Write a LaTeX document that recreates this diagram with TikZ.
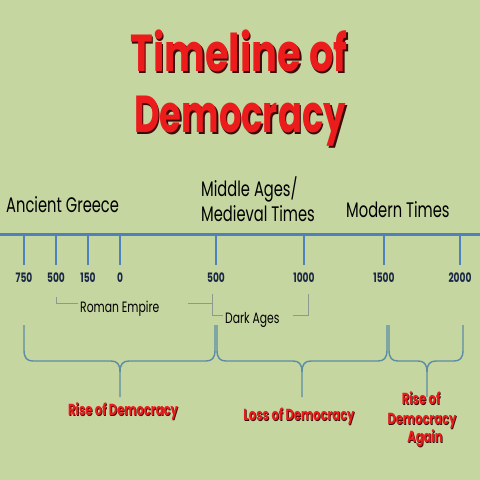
\documentclass[tikz,border=0pt]{standalone}
\usepackage{fontspec}
\setmainfont{Poppins}
\definecolor{bg}{HTML}{C5D6A0}
\definecolor{axis}{HTML}{4F81BD}
\definecolor{brc}{HTML}{5B8DA6}
\definecolor{tred}{HTML}{EC1C1C}
\definecolor{shade}{HTML}{3A0A0A}
\definecolor{navy}{HTML}{1B2747}
\definecolor{grayline}{HTML}{8C9C8C}
\newcommand{\sqz}[2][0.72]{\scalebox{#1}[1]{#2}}
% red text with a dark drop shadow, in one box
\newcommand{\shadowed}[2]{\makebox[0pt][l]{\hspace{#1}\raisebox{-#1}{\color{shade}#2}}{\color{tred}#2}}
\tikzset{
  titletxt/.style={anchor=base, inner sep=0pt, font=\fontsize{52}{52}\selectfont\bfseries},
  era/.style={anchor=base west, inner sep=0pt, font=\fontsize{21}{21}\selectfont, text=black},
  yearlbl/.style={anchor=base, inner sep=0pt, font=\fontsize{13}{13}\selectfont\bfseries, text=navy},
  period/.style={anchor=base west, inner sep=0pt, font=\fontsize{15}{15}\selectfont, text=black},
  redlbl/.style={anchor=base, inner sep=0pt, font=\fontsize{16}{16}\selectfont\bfseries},
  axisline/.style={draw=axis, line width=3pt},
  tickline/.style={draw=axis, line width=2.4pt},
  brline/.style={draw=grayline, line width=0.8pt},
  bracepath/.style={draw=brc, line width=1.4pt, line join=round},
}
\begin{document}
\begin{tikzpicture}[x=1pt,y=-1pt]
\fill[bg] (0,0) rectangle (480,480);
\useasboundingbox (0,0) rectangle (480,480);

% title
\node[titletxt] (title1) at (239,71) {\sqz[0.74]{\shadowed{2.2pt}{Timeline of}}};
\node[titletxt] (title2) at (240,132) {\sqz[0.68]{\shadowed{2.2pt}{Democracy}}};

% eras
\node[era] (greece) at (6,212) {\sqz[0.70]{Ancient Greece}};
\node[era] (middle1) at (201,196) {\sqz[0.70]{Middle Ages/}};
\node[era] (middle2) at (201,221) {\sqz[0.70]{Medieval Times}};
\node[era] (modern) at (346,217) {\sqz[0.70]{Modern Times}};

% axis
\coordinate (axL) at (0,234);
\coordinate (axR) at (480,234);
\draw[axisline] (axL) -- (axR);

\foreach \x/\lbl/\nm in {24/750/a,56/500/b,88/150/c,120/0/d,216/500/e,304/1000/f,384/1500/g,460/2000/h}{
  \coordinate (top\nm) at (\x,234);
  \coordinate (bot\nm) at (\x,265);
  \draw[tickline] (top\nm) -- (bot\nm);
  \node[yearlbl] (yr\nm) at (\x,282) {\sqz[0.70]{\lbl}};
}

% Roman Empire bracket
\node[period] (roman) at (80,312) {\sqz{Roman Empire}};
\coordinate (reL1) at (56,297);
\coordinate (reL2) at (56,303);
\coordinate (reL3) at (78,303);
\coordinate (reR1) at (188,303);
\coordinate (reR2) at (212,303);
\draw[brline] (reL1) -- (reL2) -- (reL3);
\draw[brline] (reR1) -- (reR2);

% Dark Ages bracket
\node[period] (dark) at (225,323) {\sqz{Dark Ages}};
\coordinate (daL1) at (212,294);
\coordinate (daL2) at (212,315);
\coordinate (daL3) at (223,315);
\coordinate (daR1) at (293,315);
\coordinate (daR2) at (308,315);
\coordinate (daR3) at (308,294);
\draw[brline] (daL1) -- (daL2) -- (daL3);
\draw[brline] (daR1) -- (daR2) -- (daR3);

% braces
\newcommand{\mybrace}[3]{%
  \draw[bracepath] (#1,325) -- (#1,350) .. controls (#1,358) and (#1+3,361) .. (#1+9,361)
    -- (#2-9,361) .. controls (#2-3,361) and (#2,364) .. (#2,372) -- (#2,397);
  \draw[bracepath] (#2,372) .. controls (#2,364) and (#2+3,361) .. (#2+9,361)
    -- (#3-9,361) .. controls (#3-3,361) and (#3,358) .. (#3,350) -- (#3,325);
}
\mybrace{24}{120}{215}
\mybrace{217}{302}{387}
\mybrace{389}{427}{463}

% red labels
\node[redlbl] (rise1) at (123,415) {\sqz{\shadowed{1pt}{Rise of Democracy}}};
\node[redlbl] (loss) at (299,420) {\sqz{\shadowed{1pt}{Loss of Democracy}}};
\node[redlbl] (r2a) at (421,404) {\sqz{\shadowed{1pt}{Rise of}}};
\node[redlbl] (r2b) at (422,424) {\sqz{\shadowed{1pt}{Democracy}}};
\node[redlbl] (r2c) at (425,442) {\sqz{\shadowed{1pt}{Again}}};
\end{tikzpicture}
\end{document}
